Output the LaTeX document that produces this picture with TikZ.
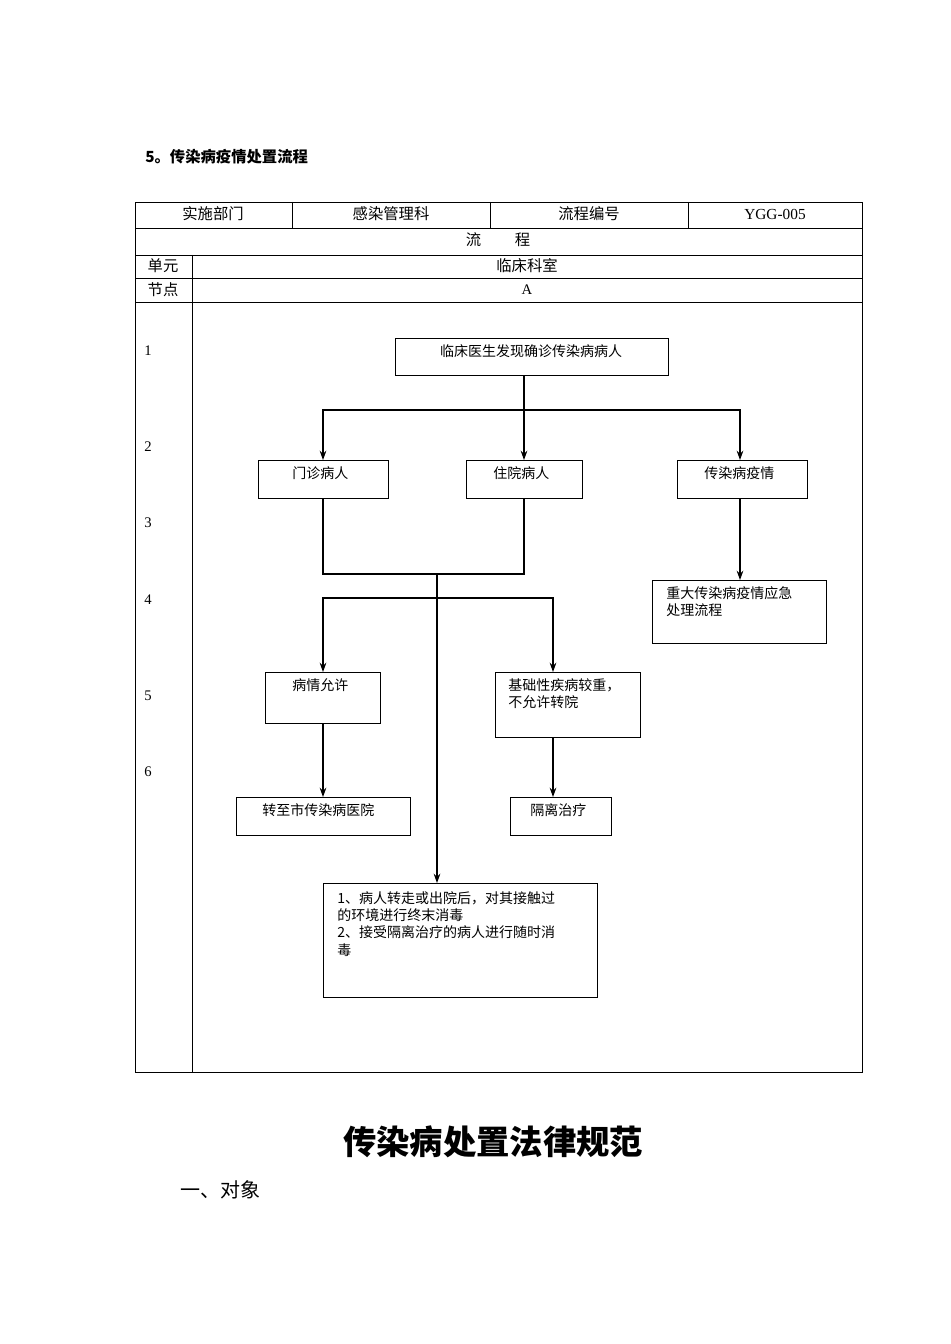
\documentclass[tikz,border=0pt]{standalone}
\usepackage{fontspec}
\setmainfont{Liberation Serif}
\newfontfamily\cjk{Noto Sans CJK SC}
\usetikzlibrary{arrows.meta}
\begin{document}
\begin{tikzpicture}[x=0.75pt,y=-0.75pt,
  bx/.style={draw,line width=0.8pt,inner sep=0pt,anchor=north west},
  tx/.style={anchor=north west,inner sep=0pt,font=\cjk\fontsize{10.5}{13}\selectfont,align=left},
  hd/.style={inner sep=0pt,font=\cjk\fontsize{11.5}{13}\selectfont},
  num/.style={inner sep=0pt,font=\fontsize{11}{13}\selectfont},
  ar/.style={-{Stealth[length=7pt,width=5pt]},line width=0.8pt},
  ln/.style={line width=0.8pt}]
\useasboundingbox (0,0) rectangle (950,1344);
\node[anchor=west,inner sep=0pt,font=\cjk\bfseries\fontsize{11.5}{13}\selectfont] (t1) at (145,157) {5。传染病疫情处置流程};
% table
\draw[line width=0.6pt] (135,202) rectangle (862,1072);
\foreach \y in {228,255,278,302} \draw[line width=0.6pt] (135,\y) -- (862,\y);
\foreach \x in {292,490,688} \draw[line width=0.6pt] (\x,202) -- (\x,228);
\draw[line width=0.6pt] (192,255) -- (192,1072);
\node[hd] (h1) at (213,214) {实施部门};
\node[hd] (h2) at (391,214) {感染管理科};
\node[hd] (h3) at (589,214) {流程编号};
\node[hd,font=\fontsize{11.5}{13}\selectfont] (h4) at (775,214) {YGG-005};
\node[hd] (h5) at (498,240) {流\hspace{2.2em}程};
\node[hd] (h6) at (163,266) {单元};
\node[hd] (h7) at (527,266) {临床科室};
\node[hd] (h8) at (163,290) {节点};
\node[num] (h9) at (527,290) {A};
\node[num] (n1) at (148,351) {1};
\node[num] (n2) at (148,447) {2};
\node[num] (n3) at (148,523) {3};
\node[num] (n4) at (148,600) {4};
\node[num] (n5) at (148,696) {5};
\node[num] (n6) at (148,772) {6};
% boxes
\node[bx,minimum width=273pt*0.75,minimum height=37pt*0.75] (A) at (395,338) {};
\node[tx,anchor=north] (At) at (531,344) {临床医生发现确诊传染病病人};
\node[bx,minimum width=130pt*0.75,minimum height=38pt*0.75] (B1) at (258,460) {};
\node[tx] (B1t) at (292,466) {门诊病人};
\node[bx,minimum width=116pt*0.75,minimum height=38pt*0.75] (B2) at (466,460) {};
\node[tx] (B2t) at (493,466) {住院病人};
\node[bx,minimum width=130pt*0.75,minimum height=38pt*0.75] (B3) at (677,460) {};
\node[tx] (B3t) at (704,466) {传染病疫情};
\node[bx,minimum width=174pt*0.75,minimum height=63pt*0.75] (C3) at (652,580) {};
\node[tx] (C3t) at (666,586) {重大传染病疫情应急\\处理流程};
\node[bx,minimum width=115pt*0.75,minimum height=51pt*0.75] (C1) at (265,672) {};
\node[tx] (C1t) at (292,678) {病情允许};
\node[bx,minimum width=145pt*0.75,minimum height=65pt*0.75] (C2) at (495,672) {};
\node[tx] (C2t) at (508,678) {基础性疾病较重，\\不允许转院};
\node[bx,minimum width=174pt*0.75,minimum height=38pt*0.75] (E1) at (236,797) {};
\node[tx] (E1t) at (262,803) {转至市传染病医院};
\node[bx,minimum width=101pt*0.75,minimum height=38pt*0.75] (E2) at (510,797) {};
\node[tx] (E2t) at (530,803) {隔离治疗};
\node[bx,minimum width=274pt*0.75,minimum height=114pt*0.75] (D) at (323,883) {};
\node[tx] (Dt) at (337,891) {1、病人转走或出院后，对其接触过\\的环境进行终末消毒\\2、接受隔离治疗的病人进行随时消\\毒};
% connectors
\coordinate (j1) at (524,410);
\draw[ar] (A.south -| j1) -- (j1) -- (B2.north -| j1);
\draw[ar] (j1) -- (323,410) -- (B1.north -| 323,0);
\draw[ar] (j1) -- (740,410) -- (B3.north -| 740,0);
\draw[ar] (B3.south -| 740,0) -- (C3.north -| 740,0);
\coordinate (j2) at (437,574);
\draw[ln] (B1.south -| 323,0) -- (323,574) -- (524,574) -- (B2.south -| 524,0);
\draw[ar] (j2) -- (D.north -| j2);
\coordinate (j3) at (437,598);
\draw[ar] (j3) -- (323,598) -- (C1.north -| 323,0);
\draw[ar] (j3) -- (553,598) -- (C2.north -| 553,0);
\draw[ar] (C1.south -| 323,0) -- (E1.north -| 323,0);
\draw[ar] (C2.south -| 553,0) -- (E2.north -| 553,0);
% bottom
\node[inner sep=0pt,font=\cjk\bfseries\fontsize{25}{30}\selectfont] (T2) at (493,1142) {传染病处置法律规范};
\node[anchor=west,inner sep=0pt,font=\cjk\fontsize{15}{18}\selectfont] (T3) at (180,1190) {一、对象};
\end{tikzpicture}
\end{document}
